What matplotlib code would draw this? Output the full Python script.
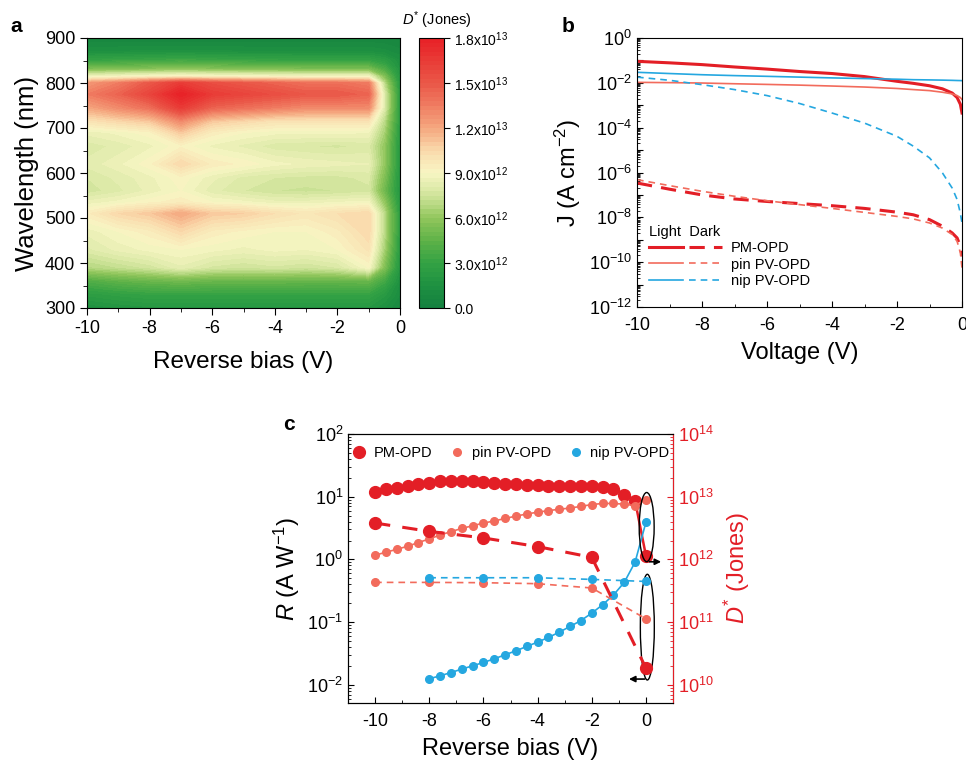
import numpy as np
import matplotlib
matplotlib.use('Agg')
import matplotlib.pyplot as plt
from matplotlib.colors import LinearSegmentedColormap
from matplotlib.patches import Ellipse
from matplotlib.legend_handler import HandlerTuple
from matplotlib.lines import Line2D
from matplotlib.ticker import (LogLocator, NullFormatter, MultipleLocator, FuncFormatter)

plt.rcParams['font.family'] = ['Liberation Sans', 'DejaVu Sans']
plt.rcParams['mathtext.fontset'] = 'custom'
plt.rcParams['mathtext.rm'] = 'Liberation Sans'
plt.rcParams['mathtext.it'] = 'Liberation Sans:italic'
plt.rcParams['axes.unicode_minus'] = False

# ---------------- data: panel a (D* map, units 1e12 Jones) ----------------
bias_a = [-10, -9, -8, -7, -6, -5, -4, -3, -2, -1, -0.5, 0]
wavelength_a = [300, 330, 360, 390, 430, 470, 510, 535, 560, 590, 620, 660,
                690, 715, 745, 775, 800, 815, 830, 850, 870, 900]
dstar_map = [
    [1.5, 1.8, 2.0, 2.0, 2.0, 2.0, 2.0, 2.0, 2.0, 2.0, 1.5, 0.8],      # 300
    [2.5, 2.8, 3.0, 3.0, 3.0, 3.0, 3.0, 3.0, 3.0, 3.0, 2.2, 1.2],      # 330
    [4.0, 4.5, 4.8, 5.0, 4.8, 4.8, 4.8, 4.7, 4.7, 4.8, 3.5, 1.5],      # 360
    [6.8, 7.2, 7.6, 8.3, 7.7, 7.5, 7.7, 7.5, 7.8, 9.0, 5.5, 2.0],      # 390
    [8.0, 8.5, 8.8, 9.0, 8.8, 8.6, 8.8, 8.7, 9.0, 10.0, 6.5, 2.3],     # 430
    [8.5, 9.0, 9.5, 10.5, 9.5, 9.2, 9.0, 9.0, 9.5, 10.5, 7.0, 2.5],    # 470
    [9.5, 10.5, 11.0, 12.0, 11.0, 10.8, 10.2, 9.8, 10.2, 10.5, 7.0, 2.5],  # 510
    [8.5, 8.8, 9.2, 9.5, 9.0, 8.8, 8.5, 8.5, 8.7, 8.8, 6.0, 2.2],      # 535
    [7.6, 8.0, 8.5, 9.0, 8.2, 7.8, 7.5, 7.4, 7.5, 7.7, 5.0, 2.0],      # 560
    [7.8, 8.2, 8.6, 9.2, 8.5, 8.0, 7.8, 7.7, 7.7, 7.9, 5.5, 2.0],      # 590
    [8.2, 8.6, 9.2, 10.5, 9.5, 9.2, 8.8, 8.6, 8.5, 8.4, 6.0, 2.2],     # 620
    [7.9, 8.2, 8.6, 9.2, 8.6, 8.3, 7.9, 7.8, 7.7, 7.9, 6.0, 2.2],      # 660
    [8.5, 8.8, 9.2, 11.0, 9.5, 9.0, 8.8, 8.8, 8.8, 8.7, 6.5, 2.3],     # 690
    [10.0, 10.5, 11.0, 13.0, 11.0, 10.5, 10.0, 10.0, 10.0, 10.0, 7.0, 2.5],  # 715
    [12.0, 13.0, 14.0, 16.5, 14.5, 14.0, 13.5, 13.0, 13.0, 13.0, 8.0, 2.5],  # 745
    [13.5, 14.5, 16.0, 18.0, 16.5, 16.0, 15.5, 15.0, 15.0, 14.5, 8.0, 2.5],  # 775
    [12.5, 13.5, 15.0, 16.5, 15.5, 15.0, 14.5, 14.0, 14.0, 13.5, 7.0, 2.2],  # 800
    [8.5, 8.8, 9.0, 9.2, 9.0, 8.9, 8.8, 8.7, 8.7, 8.7, 5.5, 2.0],      # 815
    [5.5, 5.7, 5.8, 6.0, 5.8, 5.7, 5.6, 5.5, 5.5, 5.5, 4.0, 1.8],      # 830
    [3.0, 3.2, 3.3, 3.5, 3.3, 3.2, 3.1, 3.0, 3.0, 3.0, 2.5, 1.5],      # 850
    [1.5, 1.5, 1.6, 1.6, 1.6, 1.5, 1.5, 1.5, 1.5, 1.5, 1.3, 1.0],      # 870
    [0.6, 0.6, 0.6, 0.6, 0.6, 0.6, 0.6, 0.6, 0.6, 0.6, 0.6, 0.5],      # 900
]
cbar_ticks = [0, 3e12, 6e12, 9e12, 1.2e13, 1.5e13, 1.8e13]
cbar_labels = ['0.0', '3.0x10$^{12}$', '6.0x10$^{12}$', '9.0x10$^{12}$',
               '1.2x10$^{13}$', '1.5x10$^{13}$', '1.8x10$^{13}$']

# ---------------- data: panel b (J-V) ----------------
voltage_b = [-10, -9, -8, -7, -6, -5, -4, -3, -2, -1.5, -1, -0.6, -0.3, -0.15, -0.05, 0]
pm_light = [9.1e-2, 7.8e-2, 6.5e-2, 5.1e-2, 4.1e-2, 3.2e-2, 2.6e-2, 1.9e-2,
            1.17e-2, 9.5e-3, 7.4e-3, 5.4e-3, 3.5e-3, 2.2e-3, 1.1e-3, 4.5e-4]
pm_dark = [3.4e-7, 1.8e-7, 1.0e-7, 6.6e-8, 5.1e-8, 4.1e-8, 3.3e-8, 2.5e-8,
           1.7e-8, 1.3e-8, 7.9e-9, 4.0e-9, 2.0e-9, 1.2e-9, 5.1e-10, 1.8e-10]
pin_light = [1.05e-2, 1.02e-2, 9.8e-3, 9.1e-3, 8.5e-3, 7.9e-3, 7.2e-3, 6.5e-3,
             5.6e-3, 5.0e-3, 4.5e-3, 3.8e-3, 3.2e-3, 2.7e-3, 2.2e-3, 1.8e-3]
pin_dark = [4.8e-7, 2.6e-7, 1.45e-7, 8.7e-8, 5.5e-8, 3.7e-8, 2.5e-8, 1.66e-8,
            1.1e-8, 8.5e-9, 5.6e-9, 3.3e-9, 1.7e-9, 8.5e-10, 2.6e-10, 5.5e-11]
nip_light = [2.95e-2, 2.6e-2, 2.3e-2, 2.1e-2, 1.95e-2, 1.8e-2, 1.66e-2, 1.55e-2,
             1.45e-2, 1.38e-2, 1.35e-2, 1.32e-2, 1.29e-2, 1.27e-2, 1.26e-2, 1.25e-2]
nip_dark = [1.8e-2, 1.3e-2, 8.3e-3, 5.0e-3, 2.7e-3, 1.2e-3, 4.5e-4, 1.6e-4,
            4.1e-5, 1.5e-5, 4.5e-6, 9.5e-7, 2.0e-7, 6.2e-8, 1.5e-8, 5.6e-9]

# ---------------- data: panel c (R and D*) ----------------
bias_r = [-10, -9.6, -9.2, -8.8, -8.4, -8, -7.6, -7.2, -6.8, -6.4, -6, -5.6, -5.2,
          -4.8, -4.4, -4, -3.6, -3.2, -2.8, -2.4, -2, -1.6, -1.2, -0.8, -0.4, 0]
pm_R = [11.9, 13.1, 14.0, 14.9, 16.2, 16.8, 17.7, 17.9, 17.9, 17.9, 17.0, 16.8, 16.2,
        15.8, 15.5, 15.1, 14.7, 14.7, 14.7, 14.8, 14.7, 14.4, 13.4, 10.6, 8.6, 1.15]
pin_R = [1.17, 1.3, 1.45, 1.62, 1.86, 2.12, 2.45, 2.77, 3.12, 3.44, 3.8, 4.1, 4.5,
         4.9, 5.3, 5.66, 6.0, 6.3, 6.6, 7.0, 7.5, 7.8, 7.8, 7.6, 7.2, 9.0]
bias_r_nip = [-8, -7.6, -7.2, -6.8, -6.4, -6, -5.6, -5.2, -4.8, -4.4, -4, -3.6,
              -3.2, -2.8, -2.4, -2, -1.6, -1.2, -0.8, -0.4, 0]
nip_R = [0.0125, 0.0139, 0.0157, 0.0178, 0.0201, 0.0227, 0.026, 0.0301, 0.0349,
         0.0409, 0.048, 0.0569, 0.0692, 0.0853, 0.106, 0.139, 0.189, 0.27, 0.43,
         0.905, 3.9]
bias_d = [-10, -8, -6, -4, -2, 0]
pm_D = [3.8e12, 2.8e12, 2.2e12, 1.6e12, 1.08e12, 1.85e10]
pin_D = [4.3e11, 4.3e11, 4.25e11, 4.1e11, 3.5e11, 1.13e11]
bias_d_nip = [-8, -6, -4, -2, 0]
nip_D = [5.1e11, 5.1e11, 5.1e11, 4.8e11, 4.45e11]

C_PM = '#e31e26'
C_PIN = '#f26b5c'
C_NIP = '#25a7e0'

W, H = 966, 762
fig = plt.figure(figsize=(W / 100, H / 100), dpi=100)


def box(l, t, r, b):
    return [l / W, 1 - b / H, (r - l) / W, (b - t) / H]


# ================= panel a =================
cmap = LinearSegmentedColormap.from_list('dstar', [
    (0.0, (20/255, 128/255, 64/255)),
    (0.083, (30/255, 145/255, 65/255)),
    (0.167, (52/255, 162/255, 68/255)),
    (0.25, (95/255, 178/255, 72/255)),
    (0.333, (145/255, 198/255, 92/255)),
    (0.417, (208/255, 228/255, 155/255)),
    (0.5, (248/255, 246/255, 196/255)),
    (0.583, (250/255, 218/255, 172/255)),
    (0.667, (245/255, 168/255, 128/255)),
    (0.75, (240/255, 125/255, 98/255)),
    (0.833, (234/255, 88/255, 72/255)),
    (1.0, (232/255, 32/255, 38/255)),
])
axa = fig.add_axes(box(87, 38, 400, 308))
Z = np.clip(np.array(dstar_map) * 1e12, 1e9, 1.799e13)
levels = np.linspace(0, 1.8e13, 61)
cs = axa.contourf(bias_a, wavelength_a, Z, levels=levels, cmap=cmap)
axa.set_xlim(-10, 0)
axa.set_ylim(300, 900)
axa.xaxis.set_major_locator(MultipleLocator(2))
axa.xaxis.set_minor_locator(MultipleLocator(1))
axa.yaxis.set_major_locator(MultipleLocator(100))
axa.yaxis.set_minor_locator(MultipleLocator(50))
axa.tick_params(which='both', direction='out', labelsize=13)
axa.tick_params(which='major', length=5)
axa.tick_params(which='minor', length=3)
axa.set_xlabel('Reverse bias (V)', fontsize=17.5, labelpad=10)
axa.set_ylabel('Wavelength (nm)', fontsize=18.5, labelpad=4)

cax = fig.add_axes(box(419, 38, 444, 308))
cb = fig.colorbar(cs, cax=cax, ticks=cbar_ticks)
cb.set_ticklabels(cbar_labels)
cb.ax.tick_params(labelsize=10, length=4, direction='out')
cb.outline.set_linewidth(0.8)
fig.text(437 / W, 1 - 20 / H, '$D^{*}$ (Jones)', fontsize=10.5, ha='center', va='center')

# ================= panel b =================
axb = fig.add_axes(box(637, 38, 962, 307))
axb.set_yscale('log')
lpm, = axb.plot(voltage_b, pm_light, '-', color=C_PM, lw=2.2)
dpm, = axb.plot(voltage_b, pm_dark, '--', color=C_PM, lw=2.2, dashes=(5, 3))
lpin, = axb.plot(voltage_b, pin_light, '-', color=C_PIN, lw=1.2)
dpin, = axb.plot(voltage_b, pin_dark, '--', color=C_PIN, lw=1.2, dashes=(4, 3))
lnip, = axb.plot(voltage_b, nip_light, '-', color=C_NIP, lw=1.2)
dnip, = axb.plot(voltage_b, nip_dark, '--', color=C_NIP, lw=1.2, dashes=(4, 3))
axb.set_xlim(-10, 0)
axb.set_ylim(1e-12, 1)
axb.xaxis.set_major_locator(MultipleLocator(2))
axb.xaxis.set_minor_locator(MultipleLocator(1))
axb.yaxis.set_major_locator(LogLocator(base=10, numticks=30))
axb.yaxis.set_minor_locator(LogLocator(base=10, subs=np.arange(2, 10), numticks=30))
axb.yaxis.set_minor_formatter(NullFormatter())


def even_fmt(v, pos):
    e = int(round(np.log10(v)))
    return '10$^{%d}$' % e if e % 2 == 0 else ''


axb.yaxis.set_major_formatter(FuncFormatter(even_fmt))
axb.tick_params(which='both', direction='in', labelsize=13)
axb.tick_params(which='major', length=4)
axb.tick_params(which='minor', length=2)
axb.tick_params(axis='x', pad=7)
axb.set_xlabel('Voltage (V)', fontsize=17, labelpad=6)
axb.set_ylabel('J (A cm$^{-2}$)', fontsize=17, labelpad=4)
legb = axb.legend([(lpm, dpm), (lpin, dpin), (lnip, dnip)],
                  ['PM-OPD', 'pin PV-OPD', 'nip PV-OPD'],
                  handler_map={tuple: HandlerTuple(ndivide=None, pad=0.4)},
                  handlelength=5.0, handletextpad=0.6, labelspacing=0.15,
                  frameon=False, fontsize=10.5, title='Light  Dark',
                  title_fontsize=10.5, loc='lower left',
                  bbox_to_anchor=(0.02, 0.05), borderaxespad=0)
legb._legend_box.align = 'left'

# ================= panel c =================
axc = fig.add_axes(box(348, 434, 673, 703))
axc.set_yscale('log')
axc.plot(bias_r, pm_R, '-o', color=C_PM, lw=1.8, ms=8.5, zorder=3)
axc.plot(bias_r, pin_R, '-o', color=C_PIN, lw=1.2, ms=5.5, zorder=3)
axc.plot(bias_r_nip, nip_R, '-o', color=C_NIP, lw=1.2, ms=5.5, zorder=3)
axc.set_xlim(-11, 1)
axc.set_ylim(10 ** -2.29, 1e2)
axc.xaxis.set_major_locator(MultipleLocator(2))
axc.xaxis.set_minor_locator(MultipleLocator(1))
axc.yaxis.set_major_locator(LogLocator(base=10, numticks=10))
axc.yaxis.set_minor_locator(LogLocator(base=10, subs=np.arange(2, 10), numticks=10))
axc.yaxis.set_minor_formatter(NullFormatter())
axc.tick_params(which='both', direction='in', labelsize=13)
axc.tick_params(which='major', length=4)
axc.tick_params(which='minor', length=2)
axc.tick_params(axis='x', pad=7)
axc.set_xlabel('Reverse bias (V)', fontsize=17, labelpad=6)
axc.set_ylabel('$R$ (A W$^{-1}$)', fontsize=17, labelpad=4)

axr = axc.twinx()
axr.set_yscale('log')
axr.plot(bias_d, pm_D, '--o', color=C_PM, lw=2.2, ms=8.5, dashes=(5, 4))
axr.plot(bias_d, pin_D, '--o', color=C_PIN, lw=1.2, ms=5.5, dashes=(4, 3))
axr.plot(bias_d_nip, nip_D, '--o', color=C_NIP, lw=1.2, ms=5.5, dashes=(4, 3))
axr.set_ylim(10 ** 9.71, 1e14)
axr.yaxis.set_major_locator(LogLocator(base=10, numticks=10))
axr.yaxis.set_minor_locator(LogLocator(base=10, subs=np.arange(2, 10), numticks=10))
axr.yaxis.set_minor_formatter(NullFormatter())
axr.tick_params(which='both', direction='in', labelsize=13, colors=C_PM)
axr.tick_params(which='major', length=4)
axr.tick_params(which='minor', length=2)
axr.spines['right'].set_color(C_PM)
axr.set_ylabel('$D^{*}$ (Jones)', fontsize=17, color=C_PM, labelpad=6)

axr.add_patch(Ellipse((0.919, 0.654), 0.046, 0.257, transform=axr.transAxes,
                      fill=False, ec='k', lw=1.0))
axr.add_patch(Ellipse((0.921, 0.282), 0.043, 0.393, transform=axr.transAxes,
                      fill=False, ec='k', lw=1.0))
axr.annotate('', xy=(0.972, 0.525), xytext=(0.919, 0.525), xycoords='axes fraction',
             arrowprops=dict(arrowstyle='-|>', color='k', lw=1.2, mutation_scale=9))
axr.annotate('', xy=(0.856, 0.089), xytext=(0.921, 0.089), xycoords='axes fraction',
             arrowprops=dict(arrowstyle='-|>', color='k', lw=1.2, mutation_scale=9))

hc = [Line2D([], [], ls='none', marker='o', color=C_PM, ms=8.5),
      Line2D([], [], ls='none', marker='o', color=C_PIN, ms=5.5),
      Line2D([], [], ls='none', marker='o', color=C_NIP, ms=5.5)]
axr.legend(hc, ['PM-OPD', 'pin PV-OPD', 'nip PV-OPD'], ncol=3, frameon=False,
           fontsize=10.5, loc='upper center', bbox_to_anchor=(0.5, 1.0),
           handlelength=1.0, handletextpad=0.5, columnspacing=1.2, borderaxespad=0.4)

# panel letters
fig.text(10 / W, 1 - 27 / H, 'a', fontsize=15, fontweight='bold', va='center')
fig.text(562 / W, 1 - 27 / H, 'b', fontsize=15, fontweight='bold', va='center')
fig.text(283 / W, 1 - 425 / H, 'c', fontsize=15, fontweight='bold', va='center')

fig.savefig('out.png', dpi=100)
